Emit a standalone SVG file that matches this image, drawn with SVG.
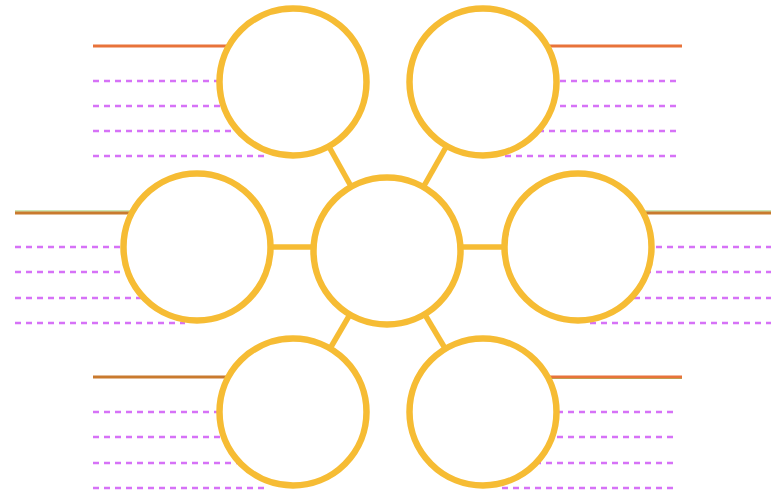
<svg xmlns="http://www.w3.org/2000/svg" width="771" height="493" viewBox="0 0 771 493">
<style>
.solid{stroke:#E8733A;stroke-width:3;fill:none}
.solid2{stroke:#C97A2E;stroke-width:3;fill:none}
.edge{stroke:#9CCB6A;stroke-width:1.2;fill:none}
.dash{stroke:#D672F7;stroke-width:2.6;stroke-dasharray:6 5;fill:none}
.conn{stroke:#F6BC34;stroke-width:5.5;fill:none}
.node{fill:#FFFFFF;stroke:#F6BC34;stroke-width:6.5}
</style>
<g id="lines">
<line class="solid" x1="93" y1="46" x2="230" y2="46"/>
<line class="dash" x1="93" y1="81" x2="265" y2="81"/>
<line class="dash" x1="93" y1="106" x2="265" y2="106"/>
<line class="dash" x1="93" y1="131" x2="265" y2="131"/>
<line class="dash" x1="93" y1="156" x2="265" y2="156"/>

<line class="solid" x1="540" y1="46" x2="682" y2="46"/>
<line class="dash" x1="505" y1="81" x2="678" y2="81"/>
<line class="dash" x1="505" y1="106" x2="678" y2="106"/>
<line class="dash" x1="505" y1="131" x2="678" y2="131"/>
<line class="dash" x1="505" y1="156" x2="678" y2="156"/>

<line class="edge" x1="15" y1="211" x2="135" y2="211"/>
<line class="solid2" x1="15" y1="213" x2="135" y2="213"/>
<line class="dash" x1="15" y1="247" x2="185" y2="247"/>
<line class="dash" x1="15" y1="272" x2="185" y2="272"/>
<line class="dash" x1="15" y1="298" x2="185" y2="298"/>
<line class="dash" x1="15" y1="323" x2="185" y2="323"/>

<line class="edge" x1="640" y1="211" x2="771" y2="211"/>
<line class="solid2" x1="640" y1="213" x2="771" y2="213"/>
<line class="dash" x1="590" y1="247" x2="771" y2="247"/>
<line class="dash" x1="590" y1="272" x2="771" y2="272"/>
<line class="dash" x1="590" y1="298" x2="771" y2="298"/>
<line class="dash" x1="590" y1="323" x2="771" y2="323"/>

<line class="solid2" x1="93" y1="377" x2="230" y2="377"/>
<line class="dash" x1="93" y1="412" x2="268" y2="412"/>
<line class="dash" x1="93" y1="437" x2="268" y2="437"/>
<line class="dash" x1="93" y1="463" x2="268" y2="463"/>
<line class="dash" x1="93" y1="488" x2="268" y2="488"/>

<line class="edge" x1="545" y1="378.5" x2="682" y2="378.5"/>
<line class="solid" x1="545" y1="377" x2="682" y2="377"/>
<line class="dash" x1="502" y1="412" x2="678" y2="412"/>
<line class="dash" x1="502" y1="437" x2="678" y2="437"/>
<line class="dash" x1="502" y1="463" x2="678" y2="463"/>
<line class="dash" x1="502" y1="488" x2="678" y2="488"/>
</g>
<g id="connectors">
<line class="conn" x1="293" y1="82" x2="387" y2="251"/>
<line class="conn" x1="483" y1="82" x2="387" y2="251"/>
<line class="conn" x1="197" y1="247" x2="387" y2="247"/>
<line class="conn" x1="578" y1="247" x2="387" y2="247"/>
<line class="conn" x1="293" y1="412" x2="387" y2="251"/>
<line class="conn" x1="483" y1="412" x2="387" y2="251"/>
</g>
<g id="node-top-left"><circle class="node" cx="293" cy="82" r="73.5"/></g>
<g id="node-top-right"><circle class="node" cx="483" cy="82" r="73.5"/></g>
<g id="node-left"><circle class="node" cx="197" cy="247" r="73.5"/></g>
<g id="node-right"><circle class="node" cx="578" cy="247" r="73.5"/></g>
<g id="node-bottom-left"><circle class="node" cx="293" cy="412" r="73.5"/></g>
<g id="node-bottom-right"><circle class="node" cx="483" cy="412" r="73.5"/></g>
<g id="node-center"><circle class="node" cx="387" cy="251" r="73.5"/></g>
</svg>
